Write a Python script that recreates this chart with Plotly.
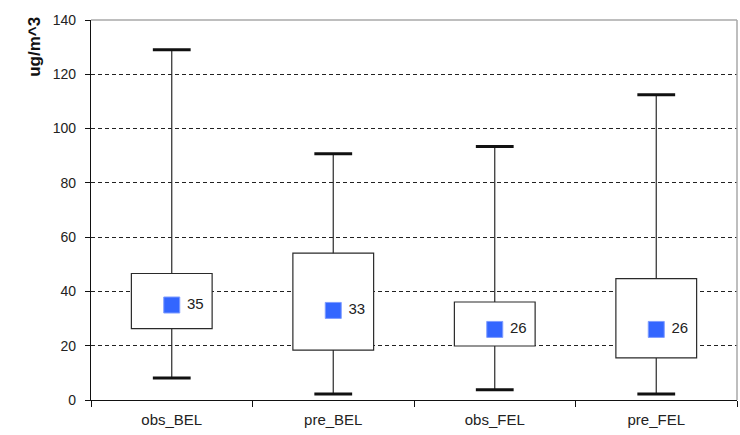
import plotly.graph_objects as go

# Summary statistics per series (ug/m^3)
categories = ["obs_BEL", "pre_BEL", "obs_FEL", "pre_FEL"]
minimum = [8.1, 2.2, 3.8, 2.2]
q1 = [26.3, 18.4, 19.9, 15.5]
q3 = [46.6, 54.1, 36.1, 44.7]
maximum = [129.0, 90.7, 93.4, 112.5]
mean = [35, 33, 26, 26]

y_ticks = [0, 20, 40, 60, 80, 100, 120, 140]

FONT = "Liberation Sans, Arial, sans-serif"
EDGE = "#2a2a2a"

fig = go.Figure()

# Interquartile boxes: white bars spanning q1..q3
fig.add_trace(go.Bar(
    x=categories,
    base=q1,
    y=[hi - lo for hi, lo in zip(q3, q1)],
    width=0.5,
    marker=dict(color="white", line=dict(color=EDGE, width=1.2)),
    hoverinfo="skip",
    showlegend=False,
))

# Upper whiskers: from q3 up to the maximum
fig.add_trace(go.Scatter(
    x=categories,
    y=q3,
    mode="markers",
    marker=dict(size=1, opacity=0),
    error_y=dict(type="data", symmetric=False,
                 array=[hi - top for hi, top in zip(maximum, q3)],
                 arrayminus=[0] * len(q3),
                 width=0, thickness=1.2, color=EDGE),
    hoverinfo="skip",
    showlegend=False,
))

# Lower whiskers: from q1 down to the minimum
fig.add_trace(go.Scatter(
    x=categories,
    y=q1,
    mode="markers",
    marker=dict(size=1, opacity=0),
    error_y=dict(type="data", symmetric=False,
                 array=[0] * len(q1),
                 arrayminus=[bot - lo for bot, lo in zip(q1, minimum)],
                 width=0, thickness=1.2, color=EDGE),
    hoverinfo="skip",
    showlegend=False,
))

# Heavier caps at whisker ends
fig.add_trace(go.Scatter(
    x=categories + categories,
    y=minimum + maximum,
    mode="markers",
    marker=dict(symbol="line-ew", size=27, line=dict(color="#111111", width=3)),
    hoverinfo="skip",
    showlegend=False,
))

# Mean markers with value labels
fig.add_trace(go.Scatter(
    x=categories,
    y=mean,
    mode="markers+text",
    marker=dict(symbol="square", size=16, color="#3366FF",
                line=dict(color="#7f9cff", width=1)),
    text=[" " + str(v) for v in mean],
    textposition="middle right",
    textfont=dict(family=FONT, size=15, color="#222222"),
    hoverinfo="skip",
    showlegend=False,
))

fig.update_layout(
    width=740,
    height=435,
    margin=dict(l=91, r=3, t=20, b=35),
    paper_bgcolor="white",
    plot_bgcolor="white",
    font=dict(family=FONT, size=14, color="#222222"),
    barmode="overlay",
    xaxis=dict(
        type="category",
        range=[-0.5, 3.5],
        tickson="boundaries",
        ticks="outside",
        ticklen=6,
        tickcolor="#111111",
        showline=True,
        linecolor="#111111",
        linewidth=1.3,
        showgrid=False,
        zeroline=False,
        tickfont=dict(family=FONT, size=15, color="#222222"),
        ticklabelstandoff=6,
    ),
    yaxis=dict(
        range=[0, 140],
        tickvals=y_ticks,
        ticks="outside",
        ticklen=5,
        tickcolor="#111111",
        showline=True,
        linecolor="#111111",
        linewidth=1.3,
        showgrid=True,
        gridcolor="#222222",
        gridwidth=1,
        griddash="4px,3px",
        zeroline=False,
        tickfont=dict(family=FONT, size=14, color="#222222"),
        ticklabelstandoff=6,
    ),
    shapes=[
        # light grey frame on the top and right of the plot area
        dict(type="line", xref="paper", yref="paper", x0=0, x1=1, y0=1, y1=1,
             line=dict(color="#a8a8a8", width=1.5), layer="above"),
        dict(type="line", xref="paper", yref="paper", x0=1, x1=1, y0=0, y1=1,
             line=dict(color="#a8a8a8", width=1.5), layer="above"),
    ],
    annotations=[
        dict(text="<b>ug/m^3</b>", textangle=-90, xref="paper", yref="paper",
             x=-0.087, y=0.929, xanchor="center", yanchor="middle",
             showarrow=False,
             font=dict(family=FONT, size=17, color="#111111")),
    ],
)

fig.write_html("out.html")
